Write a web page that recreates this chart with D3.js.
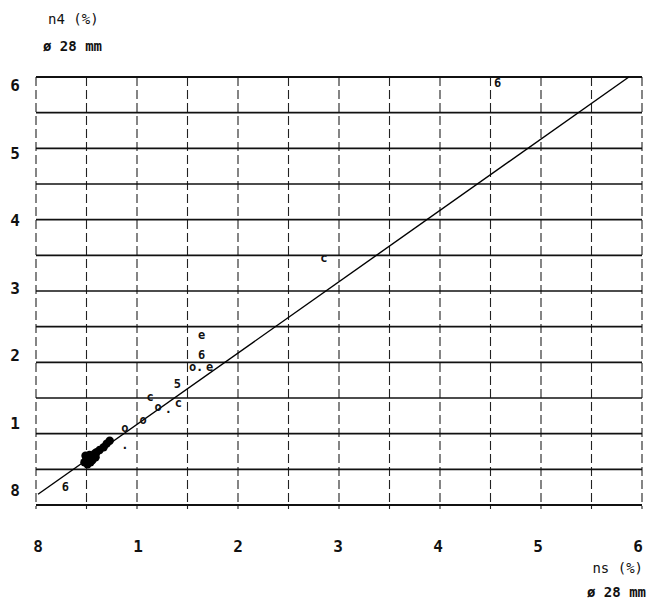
<!DOCTYPE html>
<html><head><meta charset="utf-8">
<script src="https://cdn.jsdelivr.net/npm/d3@7"></script>
<style>body{margin:0;background:#fff}svg{display:block}text{font-family:"DejaVu Sans Mono",monospace;fill:#111}</style>
</head><body>
<svg id="c" width="659" height="602"></svg>
<script>
// tick labels
const xTicks = [0,1,2,3,4,5,6];
const yTicks = [0,1,2,3,4,5,6];
const xTickLabels = ["8","1","2","3","4","5","6"];
const yTickLabels = ["8","1","2","3","4","5","6"];
const gridSteps = [0,0.5,1,1.5,2,2.5,3,3.5,4,4.5,5,5.5,6];
// data points (ns %, n4 %) and their plot glyph ("dot" = filled blob)
const xs = [0.29,0.48,0.50,0.53,0.56,0.51,0.58,0.60,0.63,0.67,0.70,0.73,0.49,0.54,0.59,0.88,1.06,1.21,1.13,1.40,1.41,1.64,1.64,1.55,1.72,2.85,4.57,0.88,1.31,1.62];
const ys = [0.25,0.60,0.66,0.70,0.63,0.57,0.72,0.74,0.77,0.81,0.86,0.90,0.69,0.60,0.67,1.08,1.19,1.37,1.51,1.70,1.43,2.38,2.10,1.93,1.93,3.46,5.92,0.80,1.30,1.89];
const glyphs = ["6","dot","dot","dot","dot","dot","dot","dot","dot","dot","dot","dot","dot","dot","dot","o","o","o","c","5","c","e","6","o","e","c","6","·","·","·"];
// regression line n4 = a + b*ns
const lineA = 0.13, lineB = 1.0;

const svg = d3.select("#c");
const x = d3.scaleLinear().domain([0,6]).range([36,642]);
const y = d3.scaleLinear().domain([0,6]).range([505,77]);
const xl = d3.scaleLinear().domain([0,6]).range([38,638]);
const yl = d3.scaleLinear().domain([0,6]).range([490,85]);

// vertical dashed grid
svg.append("g").selectAll("line").data(gridSteps).join("line")
  .attr("x1",d=>x(d)).attr("x2",d=>x(d)).attr("y1",y(6)).attr("y2",y(0)+4)
  .attr("stroke","#222").attr("stroke-width",1.1).attr("stroke-dasharray","9,4");
// horizontal solid grid
svg.append("g").selectAll("line").data(gridSteps).join("line")
  .attr("x1",x(0)).attr("x2",x(6)).attr("y1",d=>y(d)).attr("y2",d=>y(d))
  .attr("stroke","#111").attr("stroke-width",d=>(d===0||d===6)?2:1.7);

// line
const x1 = (6-lineA)/lineB;
svg.append("line").attr("x1",x(0.02)).attr("y1",y(lineA+lineB*0.02))
  .attr("x2",x(x1)).attr("y2",y(6)).attr("stroke","#000").attr("stroke-width",1.4);

const pts = xs.map((v,i)=>[v,ys[i],glyphs[i]]);
// blob points
svg.append("g").selectAll("circle").data(pts.filter(d=>d[2]==="dot")).join("circle")
  .attr("cx",d=>x(d[0])).attr("cy",d=>y(d[1])).attr("r",4.2).attr("fill","#000");
// glyph points
svg.append("g").selectAll("text").data(pts.filter(d=>d[2]!=="dot")).join("text")
  .attr("x",d=>x(d[0])).attr("y",d=>y(d[1]))
  .attr("text-anchor","middle").attr("dominant-baseline","central")
  .attr("font-size",12).attr("font-weight","bold").text(d=>d[2]);

// tick labels
svg.append("g").selectAll("text").data(xTicks).join("text")
  .attr("x",d=>xl(d)).attr("y",552).attr("text-anchor","middle")
  .attr("font-size",16).attr("font-weight","bold").text((d,i)=>xTickLabels[i]);
svg.append("g").selectAll("text").data(yTicks).join("text")
  .attr("x",15).attr("y",d=>yl(d)+6).attr("text-anchor","middle")
  .attr("font-size",16).attr("font-weight","bold").text((d,i)=>yTickLabels[i]);

// axis titles
svg.append("text").attr("x",48).attr("y",24).attr("font-size",14).text("n4 (%)");
svg.append("text").attr("x",43).attr("y",51).attr("font-size",14).attr("font-weight","bold").text("ø 28 mm");
svg.append("text").attr("x",643).attr("y",573).attr("text-anchor","end").attr("font-size",14).text("ns (%)");
svg.append("text").attr("x",646).attr("y",597).attr("text-anchor","end").attr("font-size",14).attr("font-weight","bold").text("ø 28 mm");
</script>
</body></html>
